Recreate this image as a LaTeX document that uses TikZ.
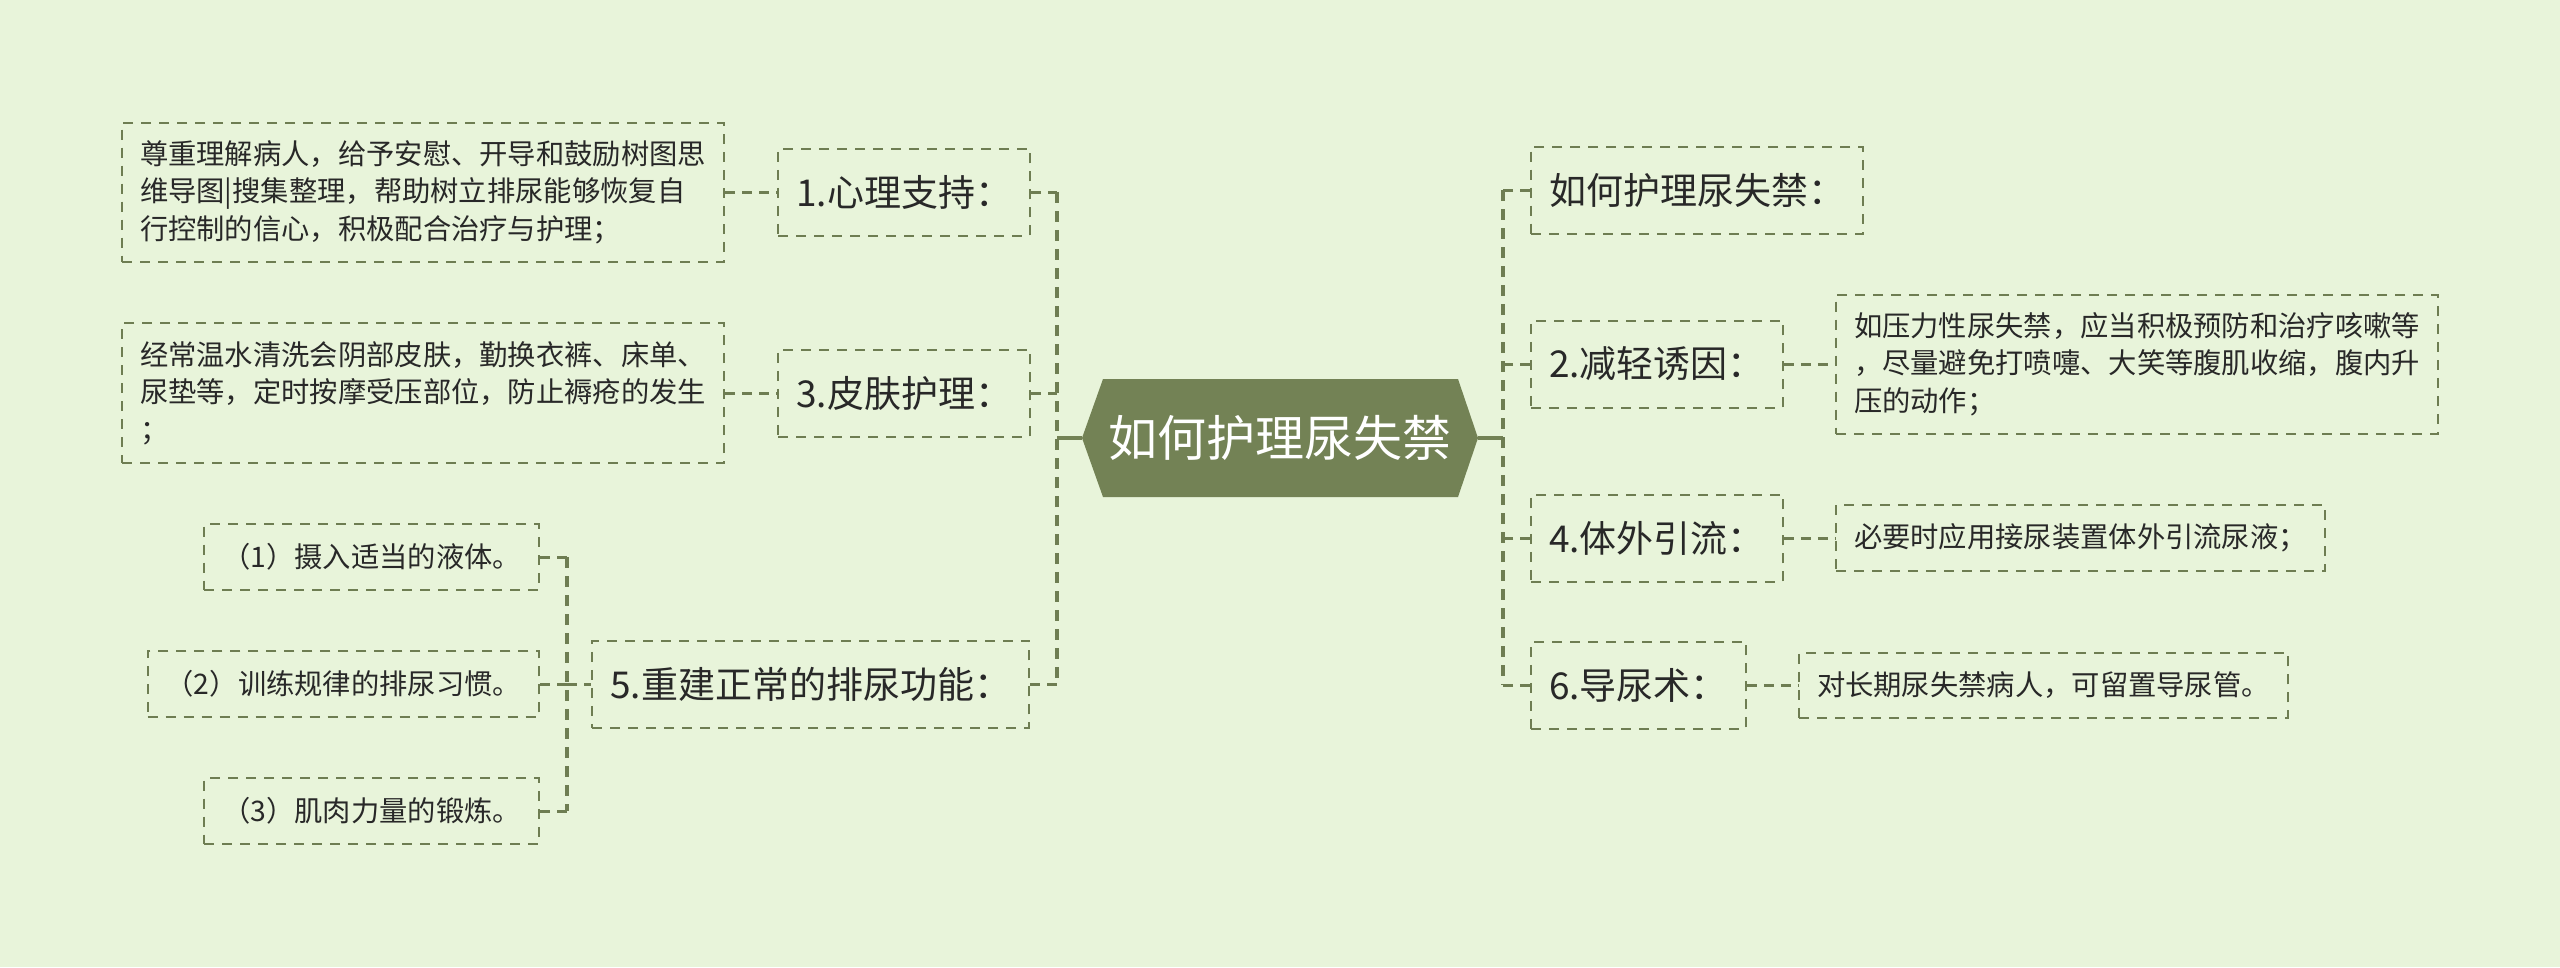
\documentclass[tikz,border=0pt]{standalone}
\usepackage{fontspec}
\setmainfont{Noto Sans CJK SC}
\definecolor{bgc}{RGB}{232,244,218}
\definecolor{hexc}{RGB}{115,130,85}
\definecolor{linec}{RGB}{110,125,82}
\definecolor{txtc}{RGB}{40,40,40}
\begin{document}
\begin{tikzpicture}[x=1pt,y=-1pt,
  lvone/.style={draw=linec, line width=2pt, dash pattern=on 10pt off 8pt, text=txtc,
    font=\fontsize{37}{44}\selectfont, inner xsep=18pt, inner ysep=0pt, minimum height=87pt},
  leaf/.style={draw=linec, line width=2pt, dash pattern=on 10pt off 8pt, text=txtc,
    font=\fontsize{28.3}{37.5}\selectfont, inner xsep=18pt, inner ysep=0pt, align=left},
  rootnode/.style={text=white, font=\fontsize{49}{56}\selectfont, inner sep=0pt,
    minimum width=396pt, minimum height=118pt},
  trunkline/.style={draw=linec, line width=3.5pt, dash pattern=on 11pt off 8pt},
  branch/.style={draw=linec, line width=3pt, dash pattern=on 10pt off 7pt},
  rootlink/.style={draw=hexc, line width=4pt}
]
\useasboundingbox[fill=bgc] (0,0) rectangle (2560,967);

% central hexagon
\fill[hexc] (1082,438) -- (1103,379) -- (1458,379) -- (1478,438) -- (1458,497) -- (1103,497) -- cycle;
\node[rootnode] (root) at (1280,438) {如何护理尿失禁};

\coordinate (ltrunk) at (1057,438);
\coordinate (rtrunk) at (1503,438);
\coordinate (strunk) at (567,684);

% left level-one nodes
\node[lvone, anchor=east] (n1) at (1031,192) {1.心理支持：};
\node[lvone, anchor=east] (n3) at (1031,393) {3.皮肤护理：};
\node[lvone, anchor=east] (n5) at (1030,684) {5.重建正常的排尿功能：};

% left text nodes
\node[leaf, anchor=east, minimum height=139pt] (t1) at (725,192)
  {尊重理解病人，给予安慰、开导和鼓励树图思\\维导图|搜集整理，帮助树立排尿能够恢复自\\行控制的信心，积极配合治疗与护理；};
\node[leaf, anchor=east, minimum height=140pt] (t3) at (725,393)
  {经常温水清洗会阴部皮肤，勤换衣裤、床单、\\尿垫等，定时按摩受压部位，防止褥疮的发生\\；};

% children of 5
\node[leaf, anchor=east, minimum height=66pt] (c1) at (540,557) {（1）摄入适当的液体。};
\node[leaf, anchor=east, minimum height=66pt] (c2) at (540,684) {（2）训练规律的排尿习惯。};
\node[leaf, anchor=east, minimum height=66pt] (c3) at (540,811) {（3）肌肉力量的锻炼。};

% right level-one nodes
\node[lvone, anchor=west] (r0) at (1530,190) {如何护理尿失禁：};
\node[lvone, anchor=west] (n2) at (1530,364) {2.减轻诱因：};
\node[lvone, anchor=west] (n4) at (1530,538) {4.体外引流：};
\node[lvone, anchor=west] (n6) at (1530,685) {6.导尿术：};

% right text nodes
\node[leaf, anchor=west, minimum height=139pt] (t2) at (1835,364)
  {如压力性尿失禁，应当积极预防和治疗咳嗽等\\，尽量避免打喷嚏、大笑等腹肌收缩，腹内升\\压的动作；};
\node[leaf, anchor=west, minimum height=66pt] (t4) at (1835,538) {必要时应用接尿装置体外引流尿液；};
\node[leaf, anchor=west, minimum height=65pt] (t6) at (1798,685) {对长期尿失禁病人，可留置导尿管。};

% root links
\draw[rootlink] (root.west) -- (ltrunk);
\draw[rootlink] (root.east) -- (rtrunk);

% trunks
\draw[trunkline] (n1.east -| ltrunk) -- (n5.east -| ltrunk);
\draw[trunkline] (r0.west -| rtrunk) -- (n6.west -| rtrunk);
\draw[trunkline] (c1.east -| strunk) -- (c3.east -| strunk);

% left branches
\draw[branch] (n1.east) -- (n1.east -| ltrunk);
\draw[branch] (n3.east) -- (n3.east -| ltrunk);
\draw[branch] (n5.east) -- (n5.east -| ltrunk);
\draw[branch] (t1.east) -- (n1.west);
\draw[branch] (t3.east) -- (n3.west);
\draw[branch] (c1.east) -- (c1.east -| strunk);
\draw[branch] (c2.east) -- (c2.east -| strunk);
\draw[branch] (c3.east) -- (c3.east -| strunk);
\draw[branch] (strunk) -- (n5.west);

% right branches
\draw[branch] (r0.west) -- (r0.west -| rtrunk);
\draw[branch] (n2.west) -- (n2.west -| rtrunk);
\draw[branch] (n4.west) -- (n4.west -| rtrunk);
\draw[branch] (n6.west) -- (n6.west -| rtrunk);
\draw[branch] (n2.east) -- (t2.west);
\draw[branch] (n4.east) -- (t4.west);
\draw[branch] (n6.east) -- (t6.west);
\end{tikzpicture}
\end{document}
